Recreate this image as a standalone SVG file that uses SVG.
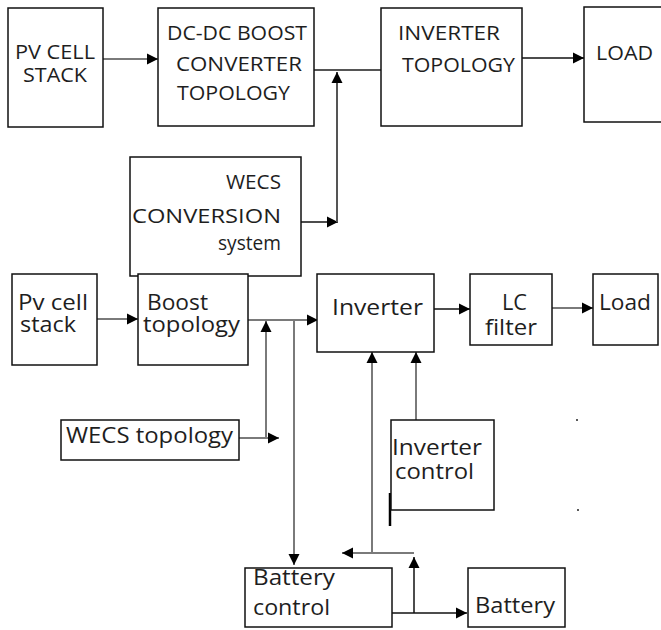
<svg xmlns="http://www.w3.org/2000/svg" width="661" height="630" viewBox="0 0 661 630">
<style>
.box{fill:#fff;stroke:#111;stroke-width:1.5}
.t{font-family:"Open Sans","Liberation Sans",sans-serif;fill:#1e1e1e}
.s{font-size:20px}
.b{font-size:21px}
.g{fill:none;stroke:#7a7a7a;stroke-width:2}
.k{fill:none;stroke:#111;stroke-width:1.5}
</style>
<defs>
<marker id="ah" markerUnits="userSpaceOnUse" markerWidth="12" markerHeight="12" refX="11" refY="6" orient="auto">
<path d="M0,0.5 L11,6 L0,11.5 z" fill="#000"/>
</marker>
</defs>
<rect width="661" height="630" fill="#fff"/>
<g id="connectors">
<path class="g" d="M103,59 H158" marker-end="url(#ah)"/>
<path class="g" d="M314,70 H381" style="stroke:#555"/>
<path class="k" d="M301,222 H338" marker-end="url(#ah)"/>
<path class="g" d="M337,222 V72" style="stroke:#555" marker-end="url(#ah)"/>
<path class="k" d="M522,58 H584" marker-end="url(#ah)"/>
<path class="g" d="M97,319 H138" marker-end="url(#ah)"/>
<path class="g" d="M248,320 H318" marker-end="url(#ah)"/>
<path class="g" d="M239,438 H279" marker-end="url(#ah)"/>
<path class="g" d="M266,438 V321" marker-end="url(#ah)"/>
<path class="g" d="M294,320 V565" marker-end="url(#ah)"/>
<path class="k" d="M434,309 H470" marker-end="url(#ah)"/>
<path class="g" d="M552,308 H593" marker-end="url(#ah)"/>
<path class="g" d="M372,553 V352" marker-end="url(#ah)"/>
<path class="g" d="M414,553 H342" marker-end="url(#ah)"/>
<path class="g" d="M416,420 V352" marker-end="url(#ah)"/>
<path class="k" d="M392,613 H467" marker-end="url(#ah)"/>
<path class="k" d="M414,613 V557" marker-end="url(#ah)"/>
<path d="M390,493 V526" stroke="#000" stroke-width="2.5" fill="none"/>
<circle cx="577" cy="420" r="1" fill="#222"/>
<circle cx="578" cy="510" r="1" fill="#222"/>
</g>
<g id="pv-cell-stack-top">
<rect class="box" x="8" y="8" width="95" height="119"/>
<text class="t s" x="15" y="59" textLength="80" lengthAdjust="spacingAndGlyphs">PV CELL</text>
<text class="t s" x="23" y="82" textLength="64" lengthAdjust="spacingAndGlyphs">STACK</text>
</g>
<g id="dcdc-boost">
<rect class="box" x="158" y="8" width="156" height="118"/>
<text class="t s" x="167" y="40" textLength="140" lengthAdjust="spacingAndGlyphs">DC-DC BOOST</text>
<text class="t s" x="176" y="71" textLength="126" lengthAdjust="spacingAndGlyphs">CONVERTER</text>
<text class="t s" x="177" y="100" textLength="113" lengthAdjust="spacingAndGlyphs">TOPOLOGY</text>
</g>
<g id="inverter-topology">
<rect class="box" x="381" y="8" width="141" height="118"/>
<text class="t s" x="398" y="40" textLength="102" lengthAdjust="spacingAndGlyphs">INVERTER</text>
<text class="t s" x="402" y="72" textLength="113" lengthAdjust="spacingAndGlyphs">TOPOLOGY</text>
</g>
<g id="load-top">
<rect class="box" x="584" y="7" width="82" height="115"/>
<text class="t s" x="596" y="60" textLength="57" lengthAdjust="spacingAndGlyphs">LOAD</text>
</g>
<g id="wecs-conversion">
<rect class="box" x="130" y="157" width="171" height="119"/>
<text class="t s" x="226" y="189" textLength="55" lengthAdjust="spacingAndGlyphs">WECS</text>
<text class="t s" x="132" y="223" textLength="149" lengthAdjust="spacingAndGlyphs">CONVERSION</text>
<text class="t s" x="218" y="250" textLength="63" lengthAdjust="spacingAndGlyphs">system</text>
</g>
<g id="pv-cell-stack">
<rect class="box" x="12" y="274" width="85" height="91"/>
<text class="t b" x="18" y="310" textLength="70" lengthAdjust="spacingAndGlyphs">Pv cell</text>
<text class="t b" x="20" y="332" textLength="56" lengthAdjust="spacingAndGlyphs">stack</text>
</g>
<g id="boost-topology">
<rect class="box" x="138" y="274" width="110" height="91"/>
<text class="t b" x="147" y="310" textLength="61" lengthAdjust="spacingAndGlyphs">Boost</text>
<text class="t b" x="143" y="332" textLength="97" lengthAdjust="spacingAndGlyphs">topology</text>
</g>
<g id="inverter">
<rect class="box" x="317" y="274" width="117" height="78"/>
<text class="t b" x="332" y="315" textLength="91" lengthAdjust="spacingAndGlyphs">Inverter</text>
</g>
<g id="lc-filter">
<rect class="box" x="470" y="274" width="82" height="71"/>
<text class="t b" x="502" y="310" textLength="25" lengthAdjust="spacingAndGlyphs">LC</text>
<text class="t b" x="485" y="335" textLength="52" lengthAdjust="spacingAndGlyphs">filter</text>
</g>
<g id="load">
<rect class="box" x="593" y="274" width="65" height="71"/>
<text class="t b" x="599" y="310" textLength="52" lengthAdjust="spacingAndGlyphs">Load</text>
</g>
<g id="wecs-topology">
<rect class="box" x="61" y="420" width="178" height="40"/>
<text class="t b" x="66" y="443" textLength="167" lengthAdjust="spacingAndGlyphs">WECS topology</text>
</g>
<g id="inverter-control">
<rect class="box" x="391" y="420" width="103" height="90"/>
<text class="t b" x="392" y="455" textLength="90" lengthAdjust="spacingAndGlyphs">Inverter</text>
<text class="t b" x="395" y="479" textLength="79" lengthAdjust="spacingAndGlyphs">control</text>
</g>
<g id="battery-control">
<rect class="box" x="245" y="568" width="147" height="59"/>
<text class="t b" x="253" y="585" textLength="82" lengthAdjust="spacingAndGlyphs">Battery</text>
<text class="t b" x="253" y="615" textLength="77" lengthAdjust="spacingAndGlyphs">control</text>
</g>
<g id="battery">
<rect class="box" x="468" y="568" width="97" height="59"/>
<text class="t b" x="475" y="613" textLength="80" lengthAdjust="spacingAndGlyphs">Battery</text>
</g>
</svg>
